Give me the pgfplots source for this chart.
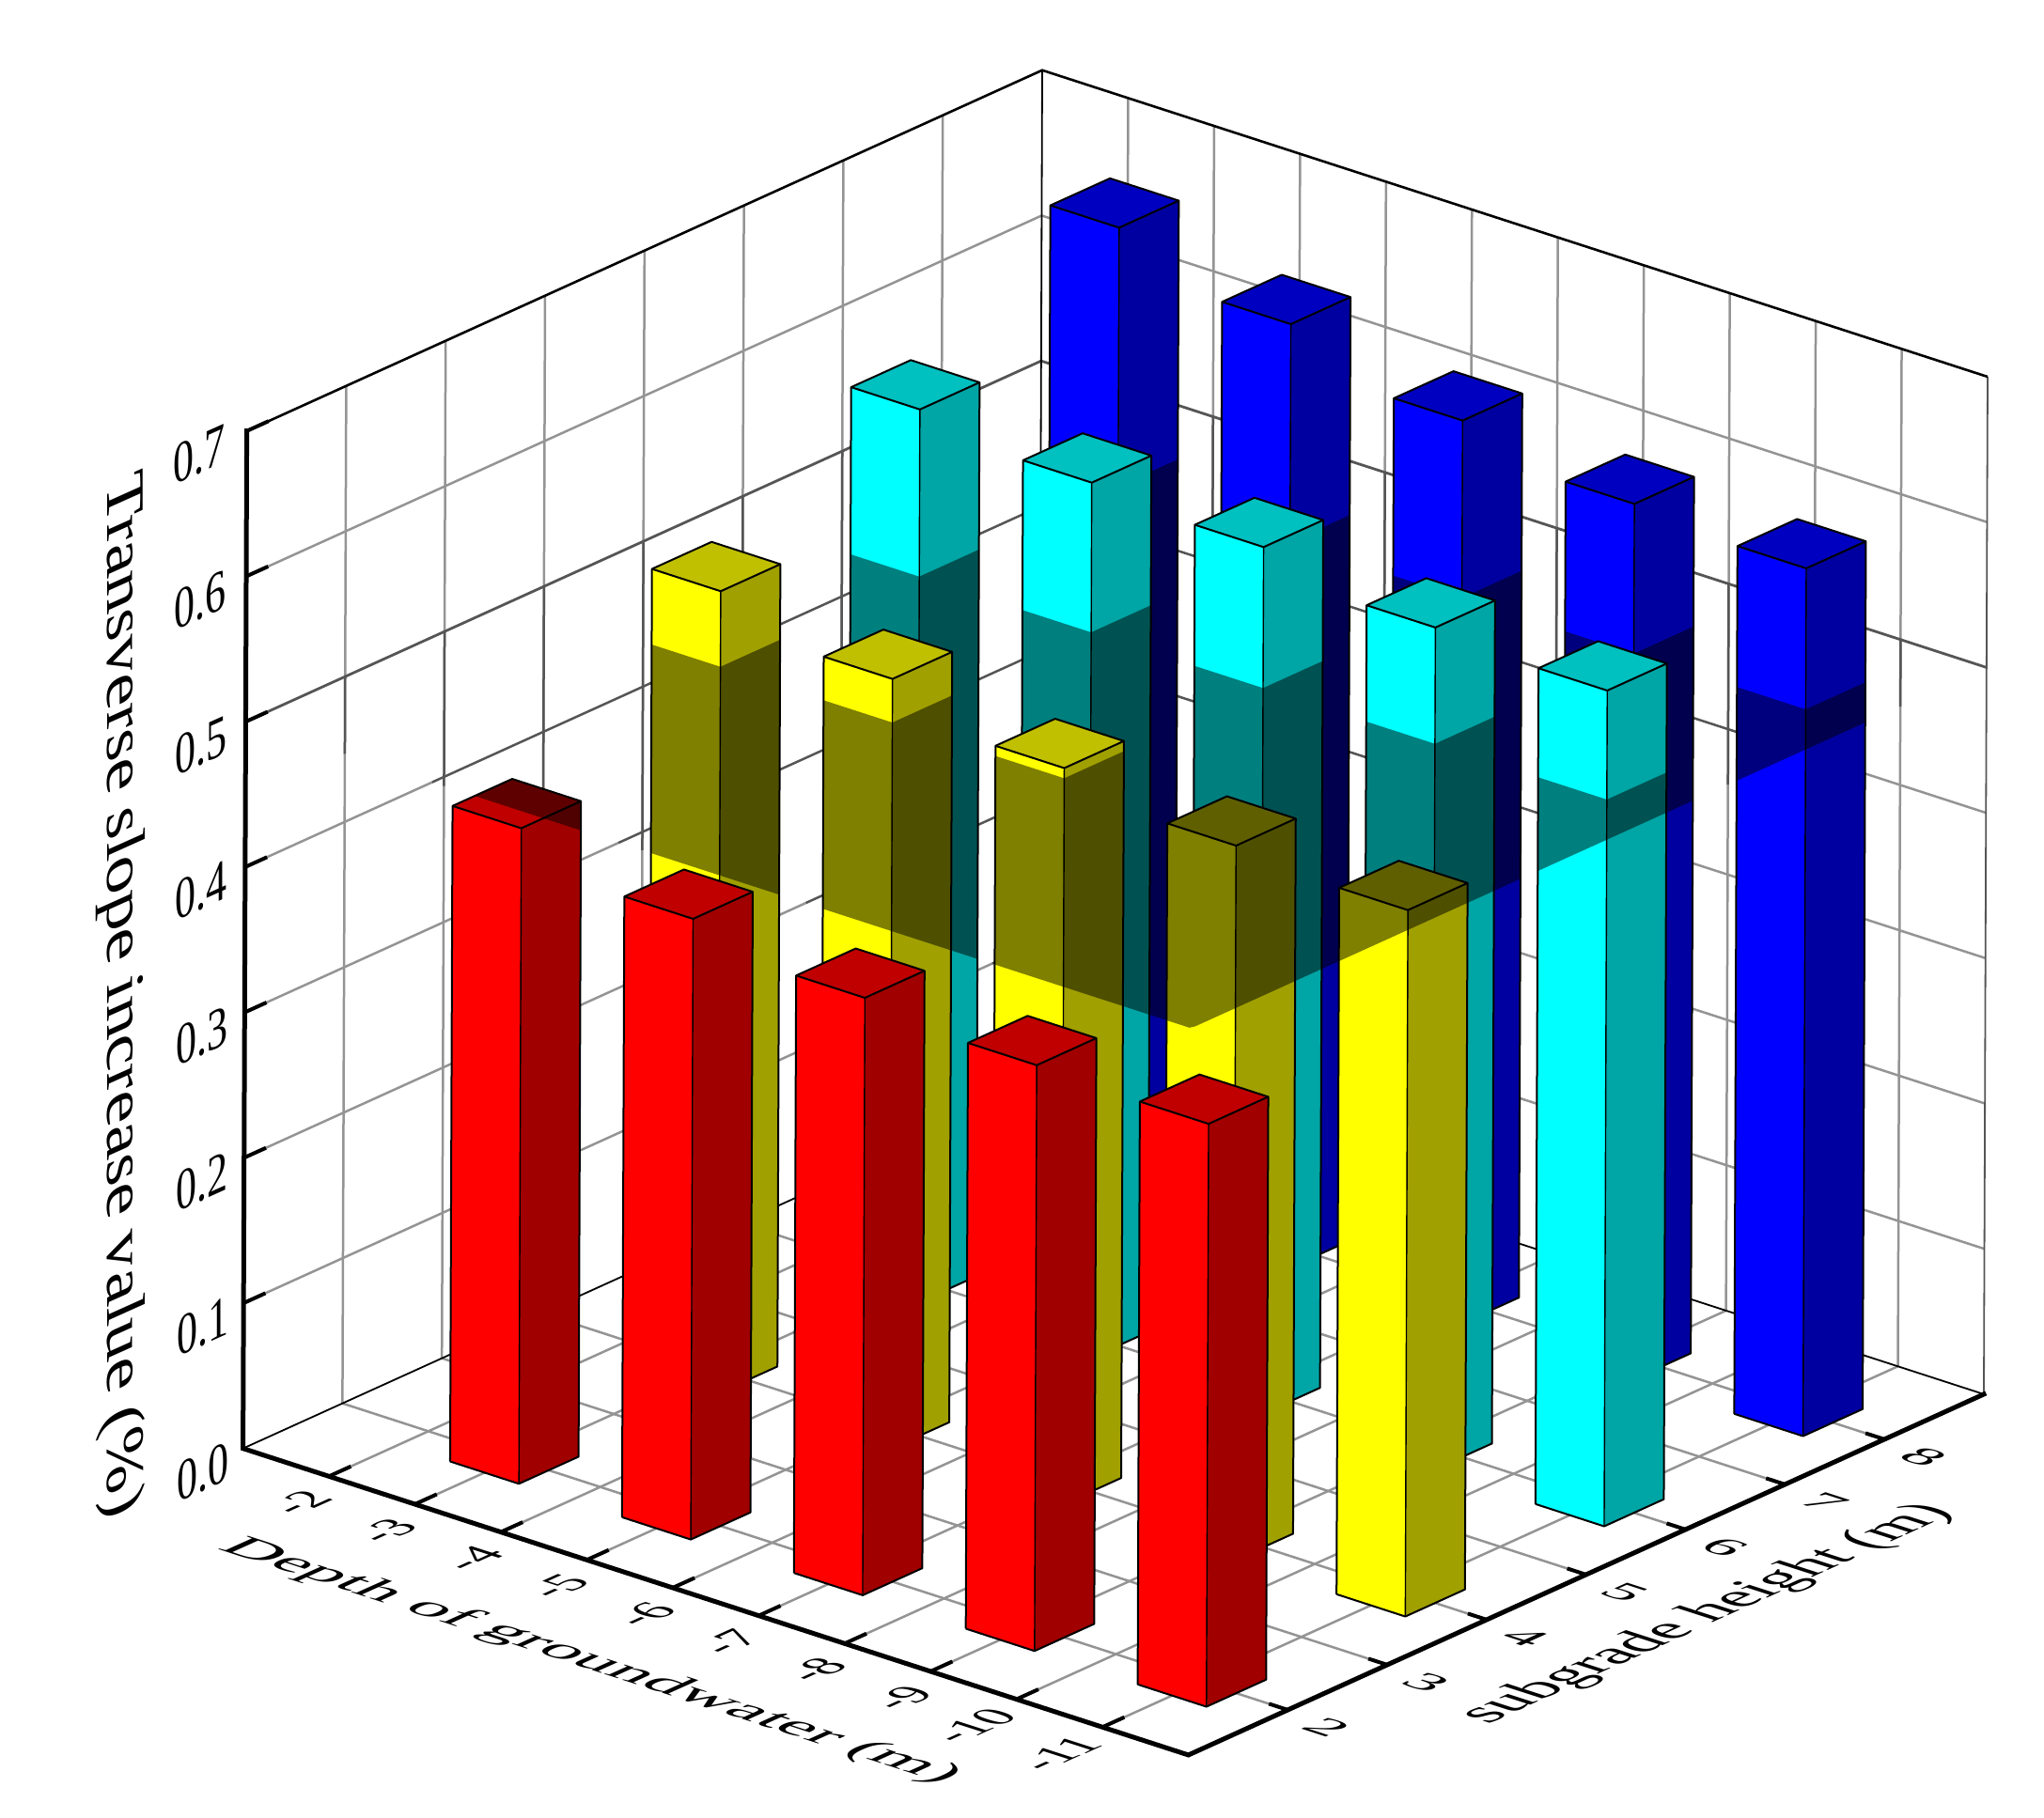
\documentclass[border=0pt]{standalone}
\usepackage{pgfplots}
\pgfplotsset{compat=1.18}
\usepackage{fontspec}
\setmainfont{Liberation Serif}
\definecolor{gr}{HTML}{949494}
\definecolor{grd}{HTML}{555555}
\definecolor{R1}{HTML}{FF0000}\definecolor{R2}{HTML}{A00000}\definecolor{R3}{HTML}{C00000}
\definecolor{Y1}{HTML}{FFFF00}\definecolor{Y2}{HTML}{A0A000}\definecolor{Y3}{HTML}{C0C000}
\definecolor{C1}{HTML}{00FFFF}\definecolor{C2}{HTML}{00A5A5}\definecolor{C3}{HTML}{00C0C0}
\definecolor{B1}{HTML}{0000FF}\definecolor{B2}{HTML}{0000A0}\definecolor{B3}{HTML}{0000C0}
% line on the axes
\newcommand\seg[3][gr]{\addplot3[draw=#1,line width=#2,forget plot] coordinates {#3};}
% one bar: X, Y, height, colour prefix
\newcommand\drawbar[4]{%
 \pgfmathsetmacro\bXb{#1+.4}\pgfmathsetmacro\bXf{#1-.4}%
 \pgfmathsetmacro\bYf{#2-.3}\pgfmathsetmacro\bYb{#2+.3}%
 \pgfmathsetmacro\bU{min(#3,.5)}%
 \edef\tmp{\noexpand\addplot3[fill=#41,draw=none,forget plot] coordinates {(\bXb,\bYf,0)(\bXf,\bYf,0)(\bXf,\bYf,#3)(\bXb,\bYf,#3)};}\tmp
 \edef\tmp{\noexpand\addplot3[fill=#42,draw=none,forget plot] coordinates {(\bXf,\bYf,0)(\bXf,\bYb,0)(\bXf,\bYb,#3)(\bXf,\bYf,#3)};}\tmp
 \edef\tmp{\noexpand\addplot3[fill=#43,draw=none,forget plot] coordinates {(\bXf,\bYf,#3)(\bXf,\bYb,#3)(\bXb,\bYb,#3)(\bXb,\bYf,#3)};}\tmp
 % what lies under the plane z=0.5 and is seen through it
 \edef\lst{(\bXb,\bYf,\bU)(\bXf,\bYf,\bU)}%
 \pgfplotsforeachungrouped \i in {0,...,12}{%
   \pgfmathsetmacro\pX{\bXf+.8*\i/12}%
   \pgfmathsetmacro\pL{min(\bU,.5-min((12+\pX)/21.71,(\bYf-1)/18.82))}%
   \edef\lst{\lst(\pX,\bYf,\pL)}}%
 \edef\tmp{\noexpand\addplot3[fill=black,fill opacity=.5,draw=none,forget plot] coordinates {\lst};}\tmp
 \edef\lst{(\bXf,\bYf,\bU)(\bXf,\bYb,\bU)}%
 \pgfplotsforeachungrouped \i in {0,...,12}{%
   \pgfmathsetmacro\pY{\bYb-.6*\i/12}%
   \pgfmathsetmacro\pL{min(\bU,.5-min((12+\bXf)/21.71,(\pY-1)/18.82))}%
   \edef\lst{\lst(\bXf,\pY,\pL)}}%
 \edef\tmp{\noexpand\addplot3[fill=black,fill opacity=.5,draw=none,forget plot] coordinates {\lst};}\tmp
 \pgfmathparse{#3<.5?1:0}\ifnum\pgfmathresult>0
   \pgfmathsetmacro\pX{max(\bXf,-12+21.71*(.5-#3))}%
   \pgfmathsetmacro\pY{max(\bYf,1+18.82*(.5-#3))}%
   \pgfmathparse{(\pX<\bXb)&&(\pY<\bYb)?1:0}\ifnum\pgfmathresult>0
    \edef\tmp{\noexpand\addplot3[fill=black,fill opacity=.5,draw=none,forget plot] coordinates {(\pX,\pY,#3)(\bXb,\pY,#3)(\bXb,\bYb,#3)(\pX,\bYb,#3)};}\tmp
   \fi
 \fi
 \edef\tmp{\noexpand\addplot3[draw=black,line width=1pt,line join=round,forget plot] coordinates {(\bXb,\bYf,0)(\bXf,\bYf,0)(\bXf,\bYb,0)(\bXf,\bYb,#3)(\bXb,\bYb,#3)(\bXb,\bYf,#3)(\bXb,\bYf,0)};}\tmp
 \edef\tmp{\noexpand\addplot3[draw=black,line width=1pt,line join=round,forget plot] coordinates {(\bXb,\bYf,#3)(\bXf,\bYf,#3)(\bXf,\bYb,#3)};}\tmp
 \edef\tmp{\noexpand\addplot3[draw=black,line width=.7pt,forget plot] coordinates {(\bXf,\bYf,0)(\bXf,\bYf,#3)};}\tmp
}
% text placed by reference pixel position, sheared into its plane
\newcommand\pxnode[5]{% px, py, cm, size, text
 \pgfmathsetmacro\dX{#1-258.6}\pgfmathsetmacro\dY{#2-1541.7}%
 \pgfmathsetmacro\nX{-1-(\dX*.0063765+\dY*.014055)}%
 \pgfmathsetmacro\nY{1+(\dX*.00394-\dY*.012149)}%
 \edef\tmp{\noexpand\node[inner sep=0pt] at (axis cs:\nX,\nY,0) {\noexpand\tikz\noexpand\node[transform shape,cm={#3,(0,0)},inner sep=0pt,font=\noexpand\fontsize{#4}{#4}\noexpand\selectfont] {#5};};}\tmp
}
\begin{document}
\begin{tikzpicture}
\begin{axis}[hide axis,clip=false,
  xmin=-12,xmax=-1,ymin=1,ymax=9,zmin=0,zmax=.7,
  x={(-45.725pt,14.83pt)},y={(52.9pt,24pt)},z={(2.85pt,773.5pt)}]
% page extent
\addplot3[draw=none,forget plot] coordinates {(22.317,18.71,0)(-18.747,3.773,0)};
% floor grid
\pgfplotsforeachungrouped \k in {-11,...,-2}{\edef\tmp{\noexpand\seg{1.25pt}{(\k,1,0)(\k,9,0)}}\tmp}
\pgfplotsforeachungrouped \k in {2,...,8}{\edef\tmp{\noexpand\seg{1.25pt}{(-12,\k,0)(-1,\k,0)}}\tmp}
% left wall: x=-1
\pgfplotsforeachungrouped \k in {2,...,8}{%
 \pgfmathsetmacro\zd{.5-(\k-1)/18.82}%
 \edef\tmp{\noexpand\seg{1.25pt}{(-1,\k,0)(-1,\k,.7)}\noexpand\seg[grd]{1.25pt}{(-1,\k,\zd)(-1,\k,.5)}}\tmp}
% right wall: y=9
\pgfplotsforeachungrouped \k in {-11,...,-2}{%
 \pgfmathsetmacro\zd{.5-(\k+12)/21.71}%
 \edef\tmp{\noexpand\seg{1.25pt}{(\k,9,0)(\k,9,.7)}\noexpand\seg[grd]{1.25pt}{(\k,9,\zd)(\k,9,.5)}}\tmp}
% wall horizontals: plain parts and parts seen through the plane
\seg{1.25pt}{(-1,1,.6)(-1,9,.6)(-12,9,.6)}
\seg[grd]{1.4pt}{(-1,1,.5)(-1,9,.5)(-12,9,.5)}
\seg{1.25pt}{(-1,1,.4)(-1,2.88,.4)}\seg[grd]{1.25pt}{(-1,2.88,.4)(-1,9,.4)(-9.83,9,.4)}\seg{1.25pt}{(-9.83,9,.4)(-12,9,.4)}
\seg{1.25pt}{(-1,1,.3)(-1,4.76,.3)}\seg[grd]{1.25pt}{(-1,4.76,.3)(-1,9,.3)(-7.66,9,.3)}\seg{1.25pt}{(-7.66,9,.3)(-12,9,.3)}
\seg{1.25pt}{(-1,1,.2)(-1,6.65,.2)}\seg[grd]{1.25pt}{(-1,6.65,.2)(-1,9,.2)(-5.49,9,.2)}\seg{1.25pt}{(-5.49,9,.2)(-12,9,.2)}
\seg{1.25pt}{(-1,1,.1)(-1,8.53,.1)}\seg[grd]{1.25pt}{(-1,8.53,.1)(-1,9,.1)(-3.3,9,.1)}\seg{1.25pt}{(-3.3,9,.1)(-12,9,.1)}
% frame
\seg[black]{.9pt}{(-1,1,0)(-1,9,0)(-12,9,0)}
\seg[black]{.9pt}{(-1,9,0)(-1,9,.7)}
\seg[grd]{.9pt}{(-12,9,0)(-12,9,.7)}
\seg[black]{1.3pt}{(-1,1,.7)(-1,9,.7)(-12,9,.7)}
% bars, from the far row to the near one
\drawbar{-3}{8}{.678}{B}\drawbar{-5}{8}{.650}{B}\drawbar{-7}{8}{.622}{B}\drawbar{-9}{8}{.603}{B}\drawbar{-11}{8}{.597}{B}
\drawbar{-3}{6}{.615}{C}\drawbar{-5}{6}{.603}{C}\drawbar{-7}{6}{.597}{C}\drawbar{-9}{6}{.580}{C}\drawbar{-11}{6}{.575}{C}
\drawbar{-3}{4}{.552}{Y}\drawbar{-5}{4}{.530}{Y}\drawbar{-7}{4}{.507}{Y}\drawbar{-9}{4}{.492}{Y}\drawbar{-11}{4}{.486}{Y}
\drawbar{-3}{2}{.451}{R}\drawbar{-5}{2}{.427}{R}\drawbar{-7}{2}{.411}{R}\drawbar{-9}{2}{.403}{R}\drawbar{-11}{2}{.401}{R}
% axes and ticks
\addplot3[draw=black,line width=2.5pt,line cap=rect,line join=miter,forget plot] coordinates {(-1,1,.7)(-1,1,0)(-12,1,0)(-12,9,0)};
\pgfplotsforeachungrouped \k in {-11,...,-2}{\edef\tmp{\noexpand\seg[black]{2pt}{(\k,1,0)(\k,1.22,0)}}\tmp}
\pgfplotsforeachungrouped \k in {2,...,8}{\edef\tmp{\noexpand\seg[black]{2pt}{(-12,\k,0)(-11.78,\k,0)}}\tmp}
\seg[black]{2pt}{(-1,1,.1)(-1,1.22,.1)}\seg[black]{2pt}{(-1,1,.2)(-1,1.22,.2)}
\seg[black]{2pt}{(-1,1,.3)(-1,1.22,.3)}\seg[black]{2pt}{(-1,1,.4)(-1,1.22,.4)}
\seg[black]{2pt}{(-1,1,.5)(-1,1.22,.5)}\seg[black]{2pt}{(-1,1,.6)(-1,1.22,.6)}
\seg[black]{2pt}{(-1,1,.7)(-1,1.22,.7)}
% labels
\pgfplotsforeachungrouped \k in {0,...,7}{%
 \pgfmathsetmacro\qx{263-.57*\k-46.5}\pgfmathsetmacro\qy{457+154.7*(7-\k)+27}%
 \pxnode{\qx}{\qy}{.71,.32,0,1}{31}{0.\k}}
\pgfplotsforeachungrouped \k in {2,...,9}{%
 \pgfmathsetmacro\qx{258.6+91.45*(\k-1)-30}\pgfmathsetmacro\qy{1541.7+29.66*(\k-1)+28}%
 \pxnode{\qx}{\qy}{.80,.36,-.81,.26}{31}{-\k}}
\pgfplotsforeachungrouped \k in {10,11}{%
 \pgfmathsetmacro\qx{258.6+91.45*(\k-1)-45}\pgfmathsetmacro\qy{1541.7+29.66*(\k-1)+28}%
 \pxnode{\qx}{\qy}{.80,.36,-.81,.26}{31}{-\k}}
\pgfplotsforeachungrouped \k in {2,...,8}{%
 \pgfmathsetmacro\qx{1264.5+105.8*(\k-1)+42}\pgfmathsetmacro\qy{1868-48*(\k-1)+18}%
 \pxnode{\qx}{\qy}{1.037,-.336,.67,.30}{31}{\k}}
\pxnode{628}{1768}{1.018,-.33,.67,.30}{36}{Depth of groundwater (m)}
\pxnode{1817}{1718}{.856,.388,-.87,.28}{36}{subgrade height (m)}
\pxnode{128}{1061}{0,-1.067,.80,.36}{36}{Transverse slope increase value (\%)}
\end{axis}
\end{tikzpicture}
\end{document}
